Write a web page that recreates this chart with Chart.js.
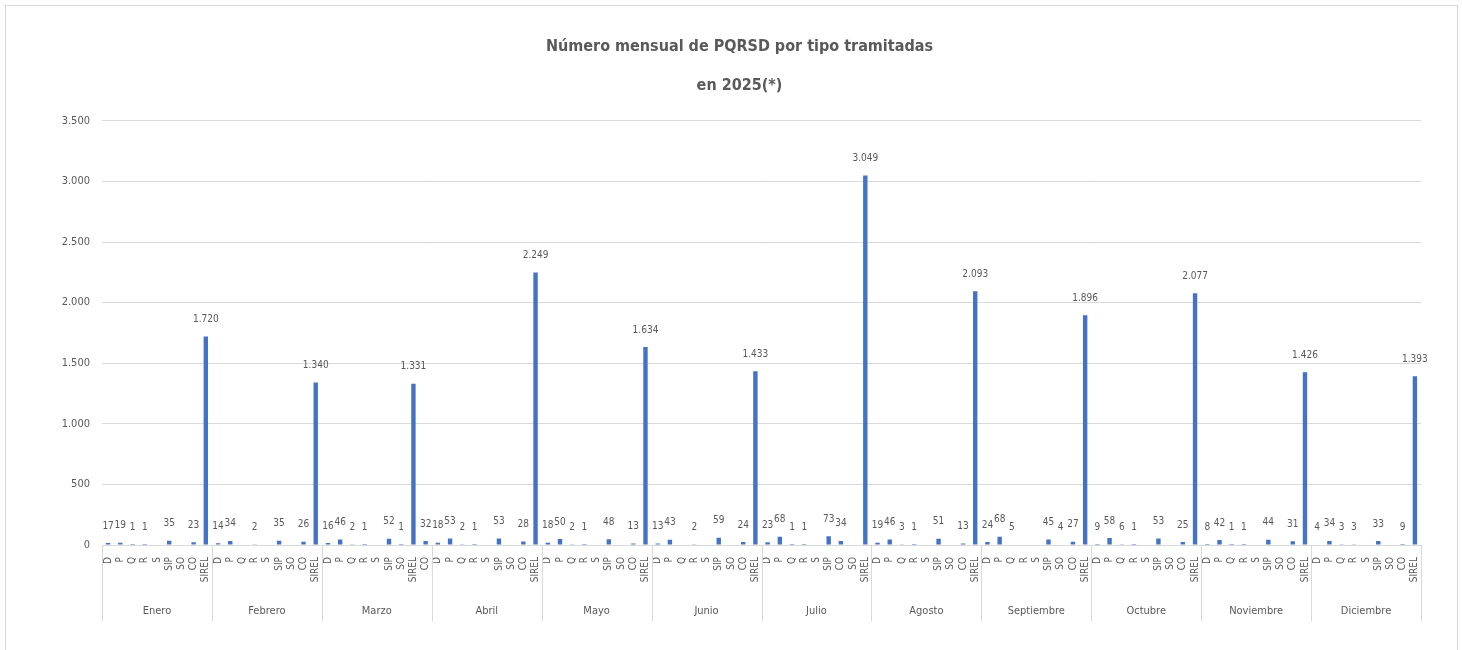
<!DOCTYPE html>
<html>
<head>
<meta charset="utf-8">
<title>PQRSD 2025</title>
<script src="https://cdn.jsdelivr.net/npm/chart.js@4.4.1/dist/chart.umd.min.js"></script>
<style>
  html, body { margin: 0; padding: 0; background: #fff; }
  #wrap { position: relative; width: 1462px; height: 650px; }
</style>
</head>
<body>
<div id="wrap"><canvas id="grafico" width="1462" height="650"></canvas></div>
<script>
// meses y tipos (el orden de los tipos cambia en algunos meses)
var meses = ['Enero', 'Febrero', 'Marzo', 'Abril', 'Mayo', 'Junio', 'Julio', 'Agosto',
             'Septiembre', 'Octubre', 'Noviembre', 'Diciembre'];

var tipos = [
    ['D', 'P', 'Q', 'R', 'S', 'SIP', 'SO', 'CO', 'SIREL'],
    ['D', 'P', 'Q', 'R', 'S', 'SIP', 'SO', 'CO', 'SIREL'],
    ['D', 'P', 'Q', 'R', 'S', 'SIP', 'SO', 'SIREL', 'CO'],
    ['D', 'P', 'Q', 'R', 'S', 'SIP', 'SO', 'CO', 'SIREL'],
    ['D', 'P', 'Q', 'R', 'S', 'SIP', 'SO', 'CO', 'SIREL'],
    ['D', 'P', 'Q', 'R', 'S', 'SIP', 'SO', 'CO', 'SIREL'],
    ['D', 'P', 'Q', 'R', 'S', 'SIP', 'CO', 'SO', 'SIREL'],
    ['D', 'P', 'Q', 'R', 'S', 'SIP', 'SO', 'CO', 'SIREL'],
    ['D', 'P', 'Q', 'R', 'S', 'SIP', 'SO', 'CO', 'SIREL'],
    ['D', 'P', 'Q', 'R', 'S', 'SIP', 'SO', 'CO', 'SIREL'],
    ['D', 'P', 'Q', 'R', 'S', 'SIP', 'SO', 'CO', 'SIREL'],
    ['D', 'P', 'Q', 'R', 'S', 'SIP', 'SO', 'CO', 'SIREL']
];

// valores en el mismo orden que tipos (null = sin dato)
var valores = [
    [17, 19, 1, 1, null, 35, null, 23, 1720],
    [14, 34, null, 2, null, 35, null, 26, 1340],
    [16, 46, 2, 1, null, 52, 1, 1331, 32],
    [18, 53, 2, 1, null, 53, null, 28, 2249],
    [18, 50, 2, 1, null, 48, null, 13, 1634],
    [13, 43, null, 2, null, 59, null, 24, 1433],
    [23, 68, 1, 1, null, 73, 34, null, 3049],
    [19, 46, 3, 1, null, 51, null, 13, 2093],
    [24, 68, 5, null, null, 45, 4, 27, 1896],
    [9, 58, 6, 1, null, 53, null, 25, 2077],
    [8, 42, 1, 1, null, 44, null, 31, 1426],
    [4, 34, 3, 3, null, 33, null, 9, 1393]
];

var yTicks = [0, 500, 1000, 1500, 2000, 2500, 3000, 3500];

var etiquetas = [].concat.apply([], tipos);
var datos = [].concat.apply([], valores);
var porMes = tipos[0].length;

var fuente = "'Liberation Sans Narrow', 'DejaVu Sans Condensed', sans-serif";
var gris = '#595959';

function miles(v) {
    return String(v).replace(/\B(?=(\d{3})+(?!\d))/g, '.');
}

// marco exterior
var marco = {
    id: 'marco',
    beforeDraw: function(chart) {
        var ctx = chart.ctx;
        ctx.save();
        ctx.strokeStyle = '#d9d9d9';
        ctx.lineWidth = 1;
        ctx.strokeRect(5.5, 5.5, 1452, 700);
        ctx.restore();
    }
};

// valores encima de cada barra
var etiquetasValor = {
    id: 'etiquetasValor',
    afterDatasetsDraw: function(chart) {
        var ctx = chart.ctx;
        var meta = chart.getDatasetMeta(0);
        ctx.save();
        ctx.font = '10px ' + fuente;
        ctx.fillStyle = gris;
        ctx.textAlign = 'center';
        ctx.textBaseline = 'bottom';
        meta.data.forEach(function(bar, i) {
            var v = datos[i];
            if (v === null) return;
            ctx.fillText(miles(v), bar.x, bar.y - 12);
        });
        ctx.restore();
    }
};

// separadores entre meses en la zona del eje x
var separadores = {
    id: 'separadores',
    afterDraw: function(chart) {
        var x = chart.scales.x;
        var x2 = chart.scales.x2;
        var mitad = (x.getPixelForValue(1) - x.getPixelForValue(0)) / 2;
        var ctx = chart.ctx;
        ctx.save();
        ctx.strokeStyle = '#d9d9d9';
        ctx.lineWidth = 1;
        for (var i = 0; i <= meses.length; i++) {
            var px;
            if (i < meses.length) {
                px = x.getPixelForValue(i * porMes) - mitad;
            } else {
                px = x.getPixelForValue(etiquetas.length - 1) + mitad;
            }
            px = Math.round(px) + 0.5;
            ctx.beginPath();
            ctx.moveTo(px, x.top);
            ctx.lineTo(px, x2.bottom);
            ctx.stroke();
        }
        ctx.restore();
    }
};

var grafico = new Chart(document.getElementById('grafico').getContext('2d'), {
    type: 'bar',
    data: {
        labels: etiquetas,
        datasets: [{
            data: datos,
            backgroundColor: '#4472C4',
            barPercentage: 0.36,
            categoryPercentage: 1.0
        }]
    },
    options: {
        responsive: false,
        animation: false,
        events: [],
        layout: {
            padding: { left: 58, right: 41, top: 0, bottom: 29 }
        },
        plugins: {
            legend: { display: false },
            tooltip: { enabled: false },
            title: {
                display: true,
                text: ['Número mensual de PQRSD por tipo tramitadas', 'en 2025(*)'],
                color: gris,
                font: { family: fuente, size: 16, weight: 'bold', lineHeight: 2.4 },
                padding: { top: 28, bottom: 16 }
            }
        },
        scales: {
            x: {
                type: 'category',
                position: 'bottom',
                grid: { display: false },
                border: { display: true, color: '#d9d9d9' },
                ticks: {
                    autoSkip: false,
                    maxRotation: 90,
                    minRotation: 90,
                    padding: 4,
                    color: gris,
                    font: { family: fuente, size: 10 }
                },
                afterFit: function(s) { s.height = 45; }
            },
            x2: {
                type: 'category',
                position: 'bottom',
                labels: meses,
                offset: true,
                grid: { display: false },
                border: { display: false },
                ticks: {
                    autoSkip: false,
                    maxRotation: 0,
                    padding: 7,
                    color: gris,
                    font: { family: fuente, size: 11 }
                },
                afterFit: function(s) { s.height = 31; }
            },
            y: {
                min: 0,
                max: 3500,
                afterBuildTicks: function(s) {
                    s.ticks = yTicks.map(function(v) { return { value: v }; });
                },
                grid: { color: '#d9d9d9', drawTicks: false },
                border: { display: false },
                ticks: {
                    padding: 12,
                    color: gris,
                    font: { family: fuente, size: 11 },
                    callback: function(v) { return miles(v); }
                },
                afterFit: function(s) { s.width = 44; }
            }
        }
    },
    plugins: [marco, etiquetasValor, separadores]
});
</script>
</body>
</html>
